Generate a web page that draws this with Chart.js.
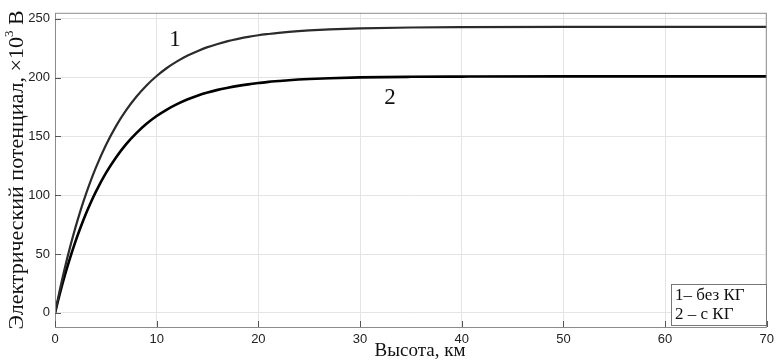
<!DOCTYPE html>
<html>
<head>
<meta charset="utf-8">
<script src="https://cdn.jsdelivr.net/npm/chart.js@4.4.0/dist/chart.umd.min.js"></script>
<style>
  html, body { margin: 0; padding: 0; background: #fff; }
</style>
</head>
<body>
<canvas id="myChart" width="779" height="363"></canvas>
<script>
// data
var heights = [0, 0.5, 1, 1.5, 2, 2.5, 3, 3.5, 4, 5, 6, 7, 8, 9, 10, 11, 12, 13, 14, 15, 16, 17, 18, 19, 20, 21, 22, 23, 25, 27, 30, 35, 40, 50, 60, 70];
var potentialNoKG = [0, 20.5, 39.3, 56.5, 72.2, 86.7, 99.8, 111.9, 123, 142.4, 158.7, 172.3, 183.7, 193.3, 201.3, 208.1, 213.7, 218.5, 222.4, 225.8, 228.5, 230.9, 232.8, 234.5, 235.9, 237, 238, 238.8, 240, 240.9, 241.8, 242.5, 242.8, 243, 243, 243];
var potentialKG = [0, 17.2, 32.9, 47.2, 60.4, 72.3, 83.4, 93.4, 102.6, 118.7, 132.1, 143.4, 152.8, 160.7, 167.3, 172.8, 177.4, 181.3, 184.5, 187.2, 189.5, 191.3, 192.9, 194.2, 195.3, 196.3, 197, 197.7, 198.7, 199.4, 200.1, 200.6, 200.8, 201, 201, 201];
var xTicks = [0, 10, 20, 30, 40, 50, 60, 70];
var yTicks = [0, 50, 100, 150, 200, 250];
var curveLabels = ['1', '2'];
var legendLabels = ['1\u2013 без КГ', '2 \u2013 с КГ'];
var xTitle = 'Высота, км';
var yTitle = 'Электрический потенциал, ×10';

function toPoints(xs, ys) {
    return xs.map(function (x, i) { return { x: x, y: ys[i] }; });
}

var serif = '"Liberation Serif", "DejaVu Serif", serif';
var sans = '"Liberation Sans", Arial, sans-serif';

// titles, curve numbers, legend box and frame
var extras = {
    id: 'extras',
    afterDraw: function (chart) {
        var ctx = chart.ctx;
        var a = chart.chartArea;
        var xs = chart.scales.x, ys = chart.scales.y;
        ctx.save();

        // frame
        ctx.strokeStyle = '#8c8c8c';
        ctx.lineWidth = 1;
        ctx.strokeRect(a.left + 0.5, a.top + 0.5, a.right - a.left - 1, a.bottom - a.top);

        // inward ticks
        ctx.strokeStyle = '#555';
        yTicks.forEach(function (v) {
            var py = Math.round(ys.getPixelForValue(v)) + 0.5;
            ctx.beginPath(); ctx.moveTo(a.left, py); ctx.lineTo(a.left + 6, py); ctx.stroke();
        });
        xTicks.forEach(function (v) {
            var px = Math.round(xs.getPixelForValue(v)) + 0.5;
            ctx.beginPath(); ctx.moveTo(px, a.bottom); ctx.lineTo(px, a.bottom - 6); ctx.stroke();
        });

        // curve numbers
        ctx.fillStyle = '#111';
        ctx.font = '23px ' + serif;
        ctx.textAlign = 'center';
        ctx.textBaseline = 'middle';
        ctx.fillText(curveLabels[0], 175, 40);
        ctx.fillText(curveLabels[1], 390, 98);

        // x title
        ctx.font = '19px ' + serif;
        ctx.fillText(xTitle, 420, 351);

        // y title (rotated)
        ctx.save();
        ctx.translate(17, 170);
        ctx.rotate(-Math.PI / 2);
        ctx.font = '22px ' + serif;
        var w1 = ctx.measureText(yTitle).width;
        ctx.font = '13px ' + serif;
        var w2 = ctx.measureText('3').width;
        ctx.font = '22px ' + serif;
        var w3 = ctx.measureText(' В').width;
        var start = -(w1 + w2 + w3) / 2;
        ctx.textAlign = 'left';
        ctx.fillText(yTitle, start, 0);
        ctx.font = '13px ' + serif;
        ctx.fillText('3', start + w1, -7);
        ctx.font = '22px ' + serif;
        ctx.fillText(' В', start + w1 + w2, 0);
        ctx.restore();

        // legend box
        var bx = 671, by = 284, bw = 95, bh = 41;
        ctx.fillStyle = '#fff';
        ctx.fillRect(bx, by, bw, bh);
        ctx.strokeStyle = '#777';
        ctx.strokeRect(bx + 0.5, by + 0.5, bw, bh);
        ctx.fillStyle = '#111';
        ctx.font = '17px ' + serif;
        ctx.textAlign = 'left';
        ctx.fillText(legendLabels[0], bx + 4, by + 12);
        ctx.fillText(legendLabels[1], bx + 4, by + 31);

        ctx.restore();
    }
};

var ctx = document.getElementById('myChart').getContext('2d');
var myChart = new Chart(ctx, {
    type: 'line',
    data: {
        datasets: [{
            label: legendLabels[0],
            data: toPoints(heights, potentialNoKG),
            borderColor: '#2b2b2b',
            borderWidth: 2.2,
            pointRadius: 0,
            cubicInterpolationMode: 'monotone'
        }, {
            label: legendLabels[1],
            data: toPoints(heights, potentialKG),
            borderColor: '#000',
            borderWidth: 2.6,
            pointRadius: 0,
            cubicInterpolationMode: 'monotone'
        }]
    },
    options: {
        responsive: false,
        animation: false,
        layout: { padding: { top: 7, right: 8, left: 0, bottom: 0 } },
        plugins: {
            legend: { display: false },
            tooltip: { enabled: false }
        },
        scales: {
            x: {
                type: 'linear',
                min: 0,
                max: 70,
                afterBuildTicks: function (s) { s.ticks = xTicks.map(function (v) { return { value: v }; }); },
                afterFit: function (s) { s.height = 36; },
                grid: { color: '#e4e4e4', drawTicks: false },
                border: { display: false },
                ticks: { color: '#222', font: { family: sans, size: 13 }, padding: 5, maxRotation: 0 }
            },
            y: {
                min: -12,
                max: 255,
                afterBuildTicks: function (s) { s.ticks = yTicks.map(function (v) { return { value: v }; }); },
                afterFit: function (s) { s.width = 55; },
                grid: { color: '#e4e4e4', drawTicks: false },
                border: { display: false },
                ticks: { color: '#222', font: { family: sans, size: 13 }, padding: 5 }
            }
        }
    },
    plugins: [extras]
});
</script>
</body>
</html>
